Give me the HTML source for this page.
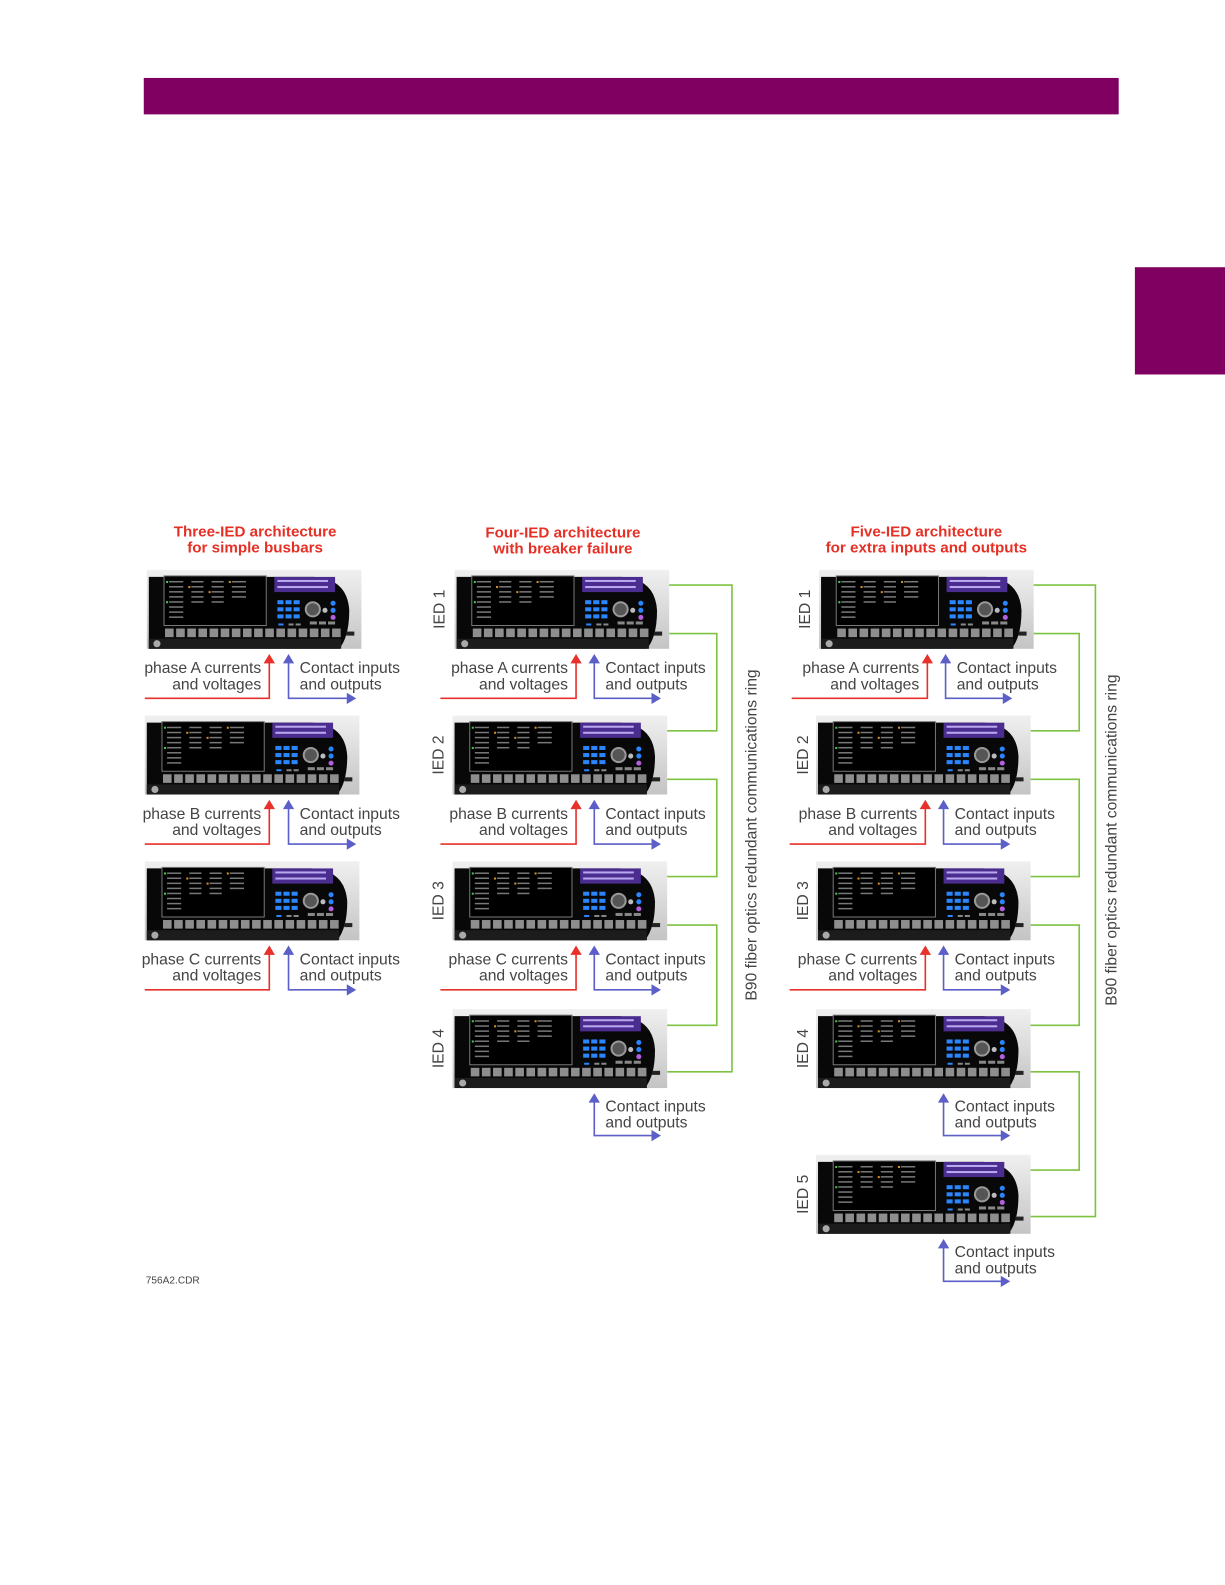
<!DOCTYPE html>
<html><head><meta charset="utf-8"><style>
html,body{margin:0;padding:0;background:#fff;}
svg{display:block;}
text{font-family:"Liberation Sans",sans-serif;}
</style></head><body>
<svg width="1225" height="1585" viewBox="0 0 1210 1566" preserveAspectRatio="none" xmlns="http://www.w3.org/2000/svg">
<defs>
<linearGradient id="g1" x1="0" y1="0" x2="0" y2="1"><stop offset="0" stop-color="#f0f0f0"/><stop offset="1" stop-color="#c4c4c4"/></linearGradient>
<marker id="ar" viewBox="0 0 10 12" refX="8" refY="6" markerWidth="6" markerHeight="7" markerUnits="strokeWidth" orient="auto-start-reverse"><path d="M0,0L10,6L0,12Z" fill="#e8312a"/></marker>
<marker id="ab" viewBox="0 0 10 12" refX="8" refY="6" markerWidth="6" markerHeight="7" markerUnits="strokeWidth" orient="auto-start-reverse"><path d="M0,0L10,6L0,12Z" fill="#5b5fc7"/></marker>
<g id="dev">
<rect x="0" y="0" width="212" height="78" fill="url(#g1)"/>
<path d="M2,7 L165,7 Q198,9 200,40 Q200,66 190,78 L2,78 Z" fill="#080808"/>
<rect x="2" y="68" width="190" height="10" fill="#1c1c1c"/>
<circle cx="10" cy="73" r="3.5" fill="#aaa"/>
<rect x="17" y="6" width="101" height="49" fill="#000" stroke="#777" stroke-width="1"/>
<g fill="#777"><rect x="22" y="11" width="14" height="1.5"/><rect x="22" y="16" width="14" height="1.5"/><rect x="22" y="21" width="14" height="1.5"/><rect x="22" y="26" width="14" height="1.5"/><rect x="22" y="31" width="14" height="1.5"/><rect x="22" y="36" width="14" height="1.5"/><rect x="22" y="41" width="14" height="1.5"/><rect x="22" y="46" width="14" height="1.5"/>
<rect x="44" y="11" width="12" height="1.5"/><rect x="44" y="16" width="12" height="1.5"/><rect x="44" y="21" width="12" height="1.5"/><rect x="44" y="26" width="12" height="1.5"/><rect x="44" y="31" width="12" height="1.5"/>
<rect x="64" y="11" width="12" height="1.5"/><rect x="64" y="16" width="12" height="1.5"/><rect x="64" y="21" width="12" height="1.5"/><rect x="64" y="26" width="12" height="1.5"/><rect x="64" y="31" width="12" height="1.5"/>
<rect x="84" y="11" width="14" height="1.5"/><rect x="84" y="16" width="14" height="1.5"/><rect x="84" y="21" width="14" height="1.5"/><rect x="84" y="26" width="14" height="1.5"/></g>
<g fill="#d89020"><rect x="41" y="16" width="2" height="2"/><rect x="61" y="21" width="2" height="2"/><rect x="81" y="11" width="2" height="2"/></g>
<g fill="#4c4"><rect x="19" y="11" width="2" height="2"/><rect x="19" y="31" width="2" height="2"/></g>
<rect x="126" y="7" width="60" height="15" fill="#4b2d8f"/>
<g fill="#b9a8ef"><rect x="129" y="10" width="50" height="2"/><rect x="129" y="16" width="50" height="2"/></g>
<g fill="#2a86ff"><rect x="129" y="30" width="6" height="4"/><rect x="137" y="30" width="6" height="4"/><rect x="145" y="30" width="6" height="4"/><rect x="129" y="37" width="6" height="4"/><rect x="137" y="37" width="6" height="4"/><rect x="145" y="37" width="6" height="4"/><rect x="129" y="44" width="6" height="4"/><rect x="137" y="44" width="6" height="4"/><rect x="145" y="44" width="6" height="4"/><rect x="130" y="53" width="5" height="2"/><circle cx="184" cy="33" r="2.5"/><circle cx="184" cy="40" r="2.5"/></g>
<circle cx="184" cy="47" r="2.5" fill="#b45ee0"/>
<circle cx="164" cy="39" r="7" fill="#555" stroke="#999" stroke-width="2"/>
<circle cx="176" cy="40" r="2.5" fill="#bbb"/>
<g fill="#888"><rect x="161" y="51" width="7" height="3"/><rect x="170" y="51" width="7" height="3"/><rect x="179" y="51" width="7" height="3"/><rect x="140" y="53" width="5" height="2"/><rect x="147" y="53" width="5" height="2"/></g>
<g fill="#8e8e8e">
<rect x="18" y="58" width="8.5" height="8.5"/><rect x="29" y="58" width="8.5" height="8.5"/><rect x="40" y="58" width="8.5" height="8.5"/><rect x="51" y="58" width="8.5" height="8.5"/><rect x="62" y="58" width="8.5" height="8.5"/><rect x="73" y="58" width="8.5" height="8.5"/><rect x="84" y="58" width="8.5" height="8.5"/><rect x="95" y="58" width="8.5" height="8.5"/><rect x="106" y="58" width="8.5" height="8.5"/><rect x="117" y="58" width="8.5" height="8.5"/><rect x="128" y="58" width="8.5" height="8.5"/><rect x="139" y="58" width="8.5" height="8.5"/><rect x="150" y="58" width="8.5" height="8.5"/><rect x="161" y="58" width="8.5" height="8.5"/><rect x="172" y="58" width="8.5" height="8.5"/><rect x="183" y="58" width="8.5" height="8.5"/></g>
<rect x="197" y="61" width="8" height="4" fill="#222"/>
</g>
</defs>

<rect x="142" y="77" width="963" height="36" fill="#7f0060"/>
<rect x="1121" y="264" width="91" height="106" fill="#7f0060"/>

<g fill="#e63025" font-weight="bold" font-size="15" text-anchor="middle">
<text x="252" y="530">Three-IED architecture</text><text x="252" y="546">for simple busbars</text>
<text x="556" y="531">Four-IED architecture</text><text x="556" y="547">with breaker failure</text>
<text x="915" y="530">Five-IED architecture</text><text x="915" y="546">for extra inputs and outputs</text>
</g>

<use href="#dev" x="145" y="563"/><use href="#dev" x="143" y="707"/><use href="#dev" x="143" y="851"/>
<use href="#dev" x="449" y="563"/><use href="#dev" x="447" y="707"/><use href="#dev" x="447" y="851"/><use href="#dev" x="447" y="997"/>
<use href="#dev" x="809" y="563"/><use href="#dev" x="806" y="707"/><use href="#dev" x="806" y="851"/><use href="#dev" x="806" y="997"/><use href="#dev" x="806" y="1141"/>

<g fill="none" stroke="#7dc242" stroke-width="1.6">
<path d="M661,578H723V1059H659"/>
<path d="M661,626H708V722H659M659,770H708V866H659M659,914H708V1013H659"/>
<path d="M1021,578H1082V1202H1018"/>
<path d="M1021,626H1066V722H1018M1018,770H1066V866H1018M1018,914H1066V1013H1018M1018,1059H1066V1156H1018"/>
</g>

<g font-size="15.5" fill="#444">
<path d="M143,690H266V648" fill="none" stroke="#e8312a" stroke-width="1.6" marker-end="url(#ar)"/>
<path d="M285,648V690H350" fill="none" stroke="#5b5fc7" stroke-width="1.6" marker-start="url(#ab)" marker-end="url(#ab)"/>
<text x="258" y="665" text-anchor="end">phase A currents</text><text x="258" y="681" text-anchor="end">and voltages</text>
<text x="296" y="665">Contact inputs</text><text x="296" y="681">and outputs</text>
<path d="M143,834H266V792" fill="none" stroke="#e8312a" stroke-width="1.6" marker-end="url(#ar)"/>
<path d="M285,792V834H350" fill="none" stroke="#5b5fc7" stroke-width="1.6" marker-start="url(#ab)" marker-end="url(#ab)"/>
<text x="258" y="809" text-anchor="end">phase B currents</text><text x="258" y="825" text-anchor="end">and voltages</text>
<text x="296" y="809">Contact inputs</text><text x="296" y="825">and outputs</text>
<path d="M143,978H266V936" fill="none" stroke="#e8312a" stroke-width="1.6" marker-end="url(#ar)"/>
<path d="M285,936V978H350" fill="none" stroke="#5b5fc7" stroke-width="1.6" marker-start="url(#ab)" marker-end="url(#ab)"/>
<text x="258" y="953" text-anchor="end">phase C currents</text><text x="258" y="969" text-anchor="end">and voltages</text>
<text x="296" y="953">Contact inputs</text><text x="296" y="969">and outputs</text>

<path d="M435,690H569V648" fill="none" stroke="#e8312a" stroke-width="1.6" marker-end="url(#ar)"/>
<path d="M587,648V690H651" fill="none" stroke="#5b5fc7" stroke-width="1.6" marker-start="url(#ab)" marker-end="url(#ab)"/>
<text x="561" y="665" text-anchor="end">phase A currents</text><text x="561" y="681" text-anchor="end">and voltages</text>
<text x="598" y="665">Contact inputs</text><text x="598" y="681">and outputs</text>
<path d="M435,834H569V792" fill="none" stroke="#e8312a" stroke-width="1.6" marker-end="url(#ar)"/>
<path d="M587,792V834H651" fill="none" stroke="#5b5fc7" stroke-width="1.6" marker-start="url(#ab)" marker-end="url(#ab)"/>
<text x="561" y="809" text-anchor="end">phase B currents</text><text x="561" y="825" text-anchor="end">and voltages</text>
<text x="598" y="809">Contact inputs</text><text x="598" y="825">and outputs</text>
<path d="M435,978H569V936" fill="none" stroke="#e8312a" stroke-width="1.6" marker-end="url(#ar)"/>
<path d="M587,936V978H651" fill="none" stroke="#5b5fc7" stroke-width="1.6" marker-start="url(#ab)" marker-end="url(#ab)"/>
<text x="561" y="953" text-anchor="end">phase C currents</text><text x="561" y="969" text-anchor="end">and voltages</text>
<text x="598" y="953">Contact inputs</text><text x="598" y="969">and outputs</text>
<path d="M587,1082V1122H651" fill="none" stroke="#5b5fc7" stroke-width="1.6" marker-start="url(#ab)" marker-end="url(#ab)"/>
<text x="598" y="1098">Contact inputs</text><text x="598" y="1114">and outputs</text>

<path d="M782,690H916V648" fill="none" stroke="#e8312a" stroke-width="1.6" marker-end="url(#ar)"/>
<path d="M934,648V690H998" fill="none" stroke="#5b5fc7" stroke-width="1.6" marker-start="url(#ab)" marker-end="url(#ab)"/>
<text x="908" y="665" text-anchor="end">phase A currents</text><text x="908" y="681" text-anchor="end">and voltages</text>
<text x="945" y="665">Contact inputs</text><text x="945" y="681">and outputs</text>
<path d="M780,834H914V792" fill="none" stroke="#e8312a" stroke-width="1.6" marker-end="url(#ar)"/>
<path d="M932,792V834H996" fill="none" stroke="#5b5fc7" stroke-width="1.6" marker-start="url(#ab)" marker-end="url(#ab)"/>
<text x="906" y="809" text-anchor="end">phase B currents</text><text x="906" y="825" text-anchor="end">and voltages</text>
<text x="943" y="809">Contact inputs</text><text x="943" y="825">and outputs</text>
<path d="M780,978H914V936" fill="none" stroke="#e8312a" stroke-width="1.6" marker-end="url(#ar)"/>
<path d="M932,936V978H996" fill="none" stroke="#5b5fc7" stroke-width="1.6" marker-start="url(#ab)" marker-end="url(#ab)"/>
<text x="906" y="953" text-anchor="end">phase C currents</text><text x="906" y="969" text-anchor="end">and voltages</text>
<text x="943" y="953">Contact inputs</text><text x="943" y="969">and outputs</text>
<path d="M932,1082V1122H996" fill="none" stroke="#5b5fc7" stroke-width="1.6" marker-start="url(#ab)" marker-end="url(#ab)"/>
<text x="943" y="1098">Contact inputs</text><text x="943" y="1114">and outputs</text>
<path d="M932,1226V1266H996" fill="none" stroke="#5b5fc7" stroke-width="1.6" marker-start="url(#ab)" marker-end="url(#ab)"/>
<text x="943" y="1242">Contact inputs</text><text x="943" y="1258">and outputs</text>

<g text-anchor="middle">
<text transform="translate(439,602) rotate(-90)">IED 1</text>
<text transform="translate(438,746) rotate(-90)">IED 2</text>
<text transform="translate(438,890) rotate(-90)">IED 3</text>
<text transform="translate(438,1036) rotate(-90)">IED 4</text>
<text transform="translate(800,602) rotate(-90)">IED 1</text>
<text transform="translate(798,746) rotate(-90)">IED 2</text>
<text transform="translate(798,890) rotate(-90)">IED 3</text>
<text transform="translate(798,1036) rotate(-90)">IED 4</text>
<text transform="translate(798,1180) rotate(-90)">IED 5</text>
<text transform="translate(747,825) rotate(-90)">B90 fiber optics redundant communications ring</text>
<text transform="translate(1103,830) rotate(-90)">B90 fiber optics redundant communications ring</text>
</g>
</g>
<text x="144" y="1268" font-size="10" fill="#444">756A2.CDR</text>
</svg>
</body></html>
